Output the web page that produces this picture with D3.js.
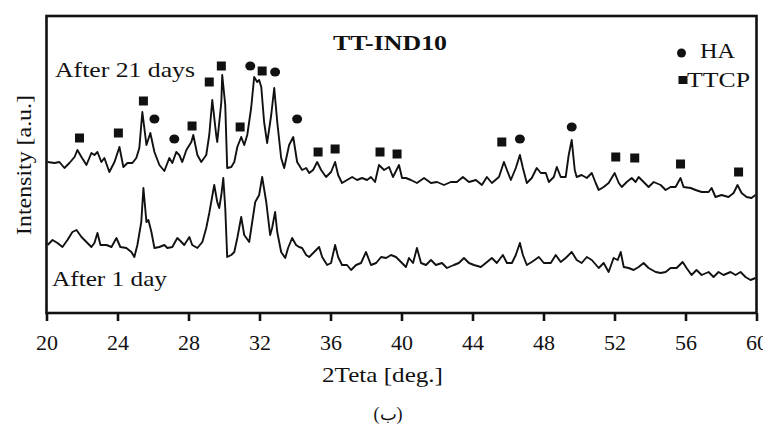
<!DOCTYPE html>
<html>
<head>
<meta charset="utf-8">
<script src="https://cdn.jsdelivr.net/npm/d3@7"></script>
<style>
  body { margin: 0; background: #fff; }
  svg { display: block; font-family: "Liberation Serif", "Times New Roman", serif; }
</style>
</head>
<body>
<div id="chart"></div>
<script>
// ===============================================================
// Data (2theta in deg, intensity in a.u.)
// ===============================================================
const day21Scan = [
  [20.06,151],[20.45,150],[20.73,151],[21.01,145],[21.29,150],[21.58,156],[21.74,163],[21.97,156],
  [22.25,148],[22.53,160],[22.70,158],[22.87,161],[23.09,151],[23.26,155],[23.54,141],[23.83,151],
  [24.11,166],[24.33,146],[24.56,150],[24.84,150],[25.06,155],[25.23,165],[25.40,201],[25.63,168],
  [25.85,180],[26.08,161],[26.36,148],[26.64,142],[26.92,155],[27.09,150],[27.31,161],[27.48,158],
  [27.65,151],[27.88,163],[28.16,171],[28.27,178],[28.50,158],[28.72,151],[29.00,158],[29.17,178],
  [29.34,213],[29.56,178],[29.62,171],[29.85,211],[29.90,238],[30.07,208],[30.18,145],[30.41,146],
  [30.58,151],[30.75,166],[30.97,176],[31.14,168],[31.31,178],[31.53,205],[31.70,236],[31.87,231],
  [31.98,233],[32.10,226],[32.26,191],[32.43,170],[32.66,198],[32.83,225],[33.00,191],[33.22,155],
  [33.39,145],[33.67,168],[33.90,176],[34.12,151],[34.40,143],[34.63,145],[34.80,140],[35.02,143],
  [35.25,151],[35.47,143],[35.75,136],[36.03,141],[36.26,151],[36.43,138],[36.65,130],[36.93,133],
  [37.22,136],[37.50,133],[37.78,135],[38.06,133],[38.28,136],[38.51,131],[38.73,148],[39.02,143],
  [39.30,146],[39.52,136],[39.86,148],[40.03,135],[40.25,135],[40.53,133],[40.87,130],[41.27,135],
  [41.66,130],[42.00,131],[42.39,128],[42.78,131],[43.12,131],[43.46,136],[43.80,131],[44.19,133],
  [44.53,128],[44.81,136],[45.09,130],[45.49,136],[45.77,151],[45.94,143],[46.16,133],[46.44,145],
  [46.67,158],[46.84,145],[47.06,130],[47.34,135],[47.62,145],[47.85,140],[48.13,140],[48.30,131],
  [48.58,136],[48.75,146],[48.97,136],[49.25,136],[49.42,158],[49.59,173],[49.76,143],[49.87,136],
  [50.15,138],[50.44,135],[50.72,140],[50.94,130],[51.11,123],[51.39,126],[51.67,130],[52.01,140],
  [52.24,130],[52.41,126],[52.69,131],[52.97,135],[53.19,131],[53.36,136],[53.64,131],[53.92,126],
  [54.21,131],[54.60,128],[54.88,123],[55.16,126],[55.44,126],[55.72,135],[55.89,126],[56.29,125],
  [56.57,123],[56.91,121],[57.30,121],[57.47,125],[57.69,116],[58.03,118],[58.42,116],[58.71,120],
  [58.93,128],[59.16,120],[59.44,116],[59.72,115],[59.94,118]
];

const day1Scan = [
  [20.06,68],[20.34,73],[20.62,70],[20.90,66],[21.18,73],[21.46,81],[21.69,83],[21.97,76],
  [22.25,71],[22.53,66],[22.70,70],[22.87,80],[23.04,68],[23.38,68],[23.66,66],[23.94,75],
  [24.16,66],[24.50,65],[24.78,61],[24.95,56],[25.12,68],[25.34,91],[25.46,125],[25.63,91],
  [25.74,93],[25.91,81],[26.08,65],[26.36,66],[26.64,68],[26.81,65],[27.09,66],[27.37,75],
  [27.60,71],[27.76,68],[28.05,76],[28.21,68],[28.50,65],[28.78,71],[29.00,85],[29.17,100],
  [29.45,128],[29.62,111],[29.73,105],[29.85,118],[29.96,135],[30.07,105],[30.18,56],[30.41,58],
  [30.58,61],[30.75,75],[30.97,96],[31.14,78],[31.42,71],[31.59,91],[31.76,111],[31.98,118],
  [32.15,136],[32.38,111],[32.60,78],[32.71,85],[32.88,101],[33.00,81],[33.22,61],[33.45,55],
  [33.61,65],[33.84,75],[34.06,68],[34.23,66],[34.40,65],[34.63,58],[34.80,56],[35.08,61],
  [35.36,66],[35.53,56],[35.81,48],[36.03,50],[36.26,68],[36.43,56],[36.65,48],[36.93,48],
  [37.16,43],[37.44,48],[37.72,50],[38.00,61],[38.28,48],[38.57,50],[38.85,56],[39.13,55],
  [39.41,58],[39.69,56],[39.97,51],[40.25,46],[40.42,55],[40.65,50],[40.87,65],[41.10,50],
  [41.38,48],[41.66,53],[41.94,48],[42.28,50],[42.56,45],[42.95,48],[43.23,50],[43.52,55],
  [43.80,50],[44.08,48],[44.47,46],[44.75,50],[45.09,55],[45.37,50],[45.71,58],[45.94,50],
  [46.22,50],[46.44,58],[46.67,70],[46.84,58],[47.06,48],[47.34,51],[47.74,56],[48.02,50],
  [48.41,50],[48.69,58],[48.97,51],[49.25,55],[49.59,61],[49.87,53],[50.15,50],[50.44,56],
  [50.72,53],[51.11,45],[51.39,50],[51.67,41],[51.95,55],[52.18,53],[52.35,61],[52.52,46],
  [52.80,45],[53.08,43],[53.36,46],[53.64,50],[53.92,45],[54.32,41],[54.60,40],[54.88,41],
  [55.16,45],[55.50,45],[55.84,51],[56.06,45],[56.34,38],[56.62,43],[56.91,38],[57.30,41],
  [57.58,36],[57.86,41],[58.14,38],[58.54,41],[58.82,38],[59.10,41],[59.38,36],[59.66,33],
  [59.94,35]
];

// phase markers: [2theta, marker height]
const haPeaks = [[26.08,194],[27.2,174],[31.48,247],[32.88,241],[34.12,194],[46.67,174],[49.59,186]];
const ttcpPeaks = [
  [21.86,175],[24.05,180],[25.46,212],[28.2,187],[29.17,231],[29.85,247],[30.91,186],[32.15,242],
  [35.3,161],[36.26,164],[38.79,161],[39.75,159],[45.65,171],[52.07,156],[53.14,155],[55.72,149],[58.99,141]
];

const xTicks = [20, 24, 28, 32, 36, 40, 44, 48, 52, 56, 60];

// ===============================================================
// Setup
// ===============================================================
const width = 763, height = 425;
const margin = {left: 46.5, right: 6.5, top: 16, bottom: 112};

const svg = d3.select('#chart').append('svg')
  .attr('width', width)
  .attr('height', height);

svg.append('rect').attr('width', width).attr('height', height).attr('fill', '#fff');

const x = d3.scaleLinear().domain([20, 60]).range([margin.left, width - margin.right]);
const y = d3.scaleLinear().domain([0, 297]).range([height - margin.bottom, margin.top]);

const ink = '#111';

// ===============================================================
// Curves
// ===============================================================
const line = d3.line()
  .x(d => x(d[0]))
  .y(d => y(d[1]));

[day21Scan, day1Scan].forEach(scan => {
  svg.append('path')
    .datum(scan)
    .attr('d', line)
    .attr('fill', 'none')
    .attr('stroke', ink)
    .attr('stroke-width', 1.9)
    .attr('stroke-linejoin', 'round');
});

// markers
svg.selectAll('rect.ttcp')
  .data(ttcpPeaks)
  .enter().append('rect')
  .attr('class', 'ttcp')
  .attr('x', d => x(d[0]) - 4.5)
  .attr('y', d => y(d[1]) - 4.5)
  .attr('width', 9)
  .attr('height', 9)
  .attr('fill', ink);

svg.selectAll('ellipse.ha')
  .data(haPeaks)
  .enter().append('ellipse')
  .attr('class', 'ha')
  .attr('cx', d => x(d[0]))
  .attr('cy', d => y(d[1]))
  .attr('rx', 5)
  .attr('ry', 4.5)
  .attr('fill', ink);

// ===============================================================
// Frame and axis
// ===============================================================
svg.append('rect')
  .attr('x', x(20))
  .attr('y', y(297))
  .attr('width', x(60) - x(20))
  .attr('height', y(0) - y(297))
  .attr('fill', 'none')
  .attr('stroke', ink)
  .attr('stroke-width', 2.6);

const x_axis = svg.append('g')
  .attr('transform', `translate(0,${y(0)})`)
  .call(d3.axisBottom(x).tickValues(xTicks).tickSize(8).tickPadding(13).tickSizeOuter(0));

x_axis.select('.domain').remove();
x_axis.selectAll('line').attr('stroke', ink).attr('stroke-width', 2.6);
x_axis.selectAll('text')
  .attr('fill', ink)
  .style('font-family', '"Liberation Serif", serif')
  .style('font-size', '22px');

// ===============================================================
// Texts
// ===============================================================
function label(txt, px, py, size, len, opts = {}) {
  const t = svg.append('text')
    .attr('x', px)
    .attr('y', py)
    .attr('fill', ink)
    .style('font-size', size + 'px')
    .text(txt);
  if (len) t.attr('textLength', len).attr('lengthAdjust', 'spacingAndGlyphs');
  if (opts.bold) t.style('font-weight', 'bold');
  if (opts.anchor) t.attr('text-anchor', opts.anchor);
  if (opts.transform) t.attr('transform', opts.transform);
  return t;
}

label('TT-IND10', 333, 50, 21, 114, {bold: true});
label('After 21 days', 55, 77, 21, 140);
label('After 1 day', 52, 286, 21, 115);
label('2Teta [deg.]', 322, 382, 21, 121);
label('Intensity [a.u.]', 0, 0, 21, 140, {transform: 'translate(31,235) rotate(-90)'});
label('(ب)', 388, 420, 18, null, {anchor: 'middle'});

// legend
svg.append('ellipse').attr('cx', 681.5).attr('cy', 53).attr('rx', 4.5).attr('ry', 4.5).attr('fill', ink);
label('HA', 700, 58, 22, 35);
svg.append('rect').attr('x', 678.5).attr('y', 76).attr('width', 9).attr('height', 8).attr('fill', ink);
label('TTCP', 687, 87, 22, 63);
</script>
</body>
</html>
